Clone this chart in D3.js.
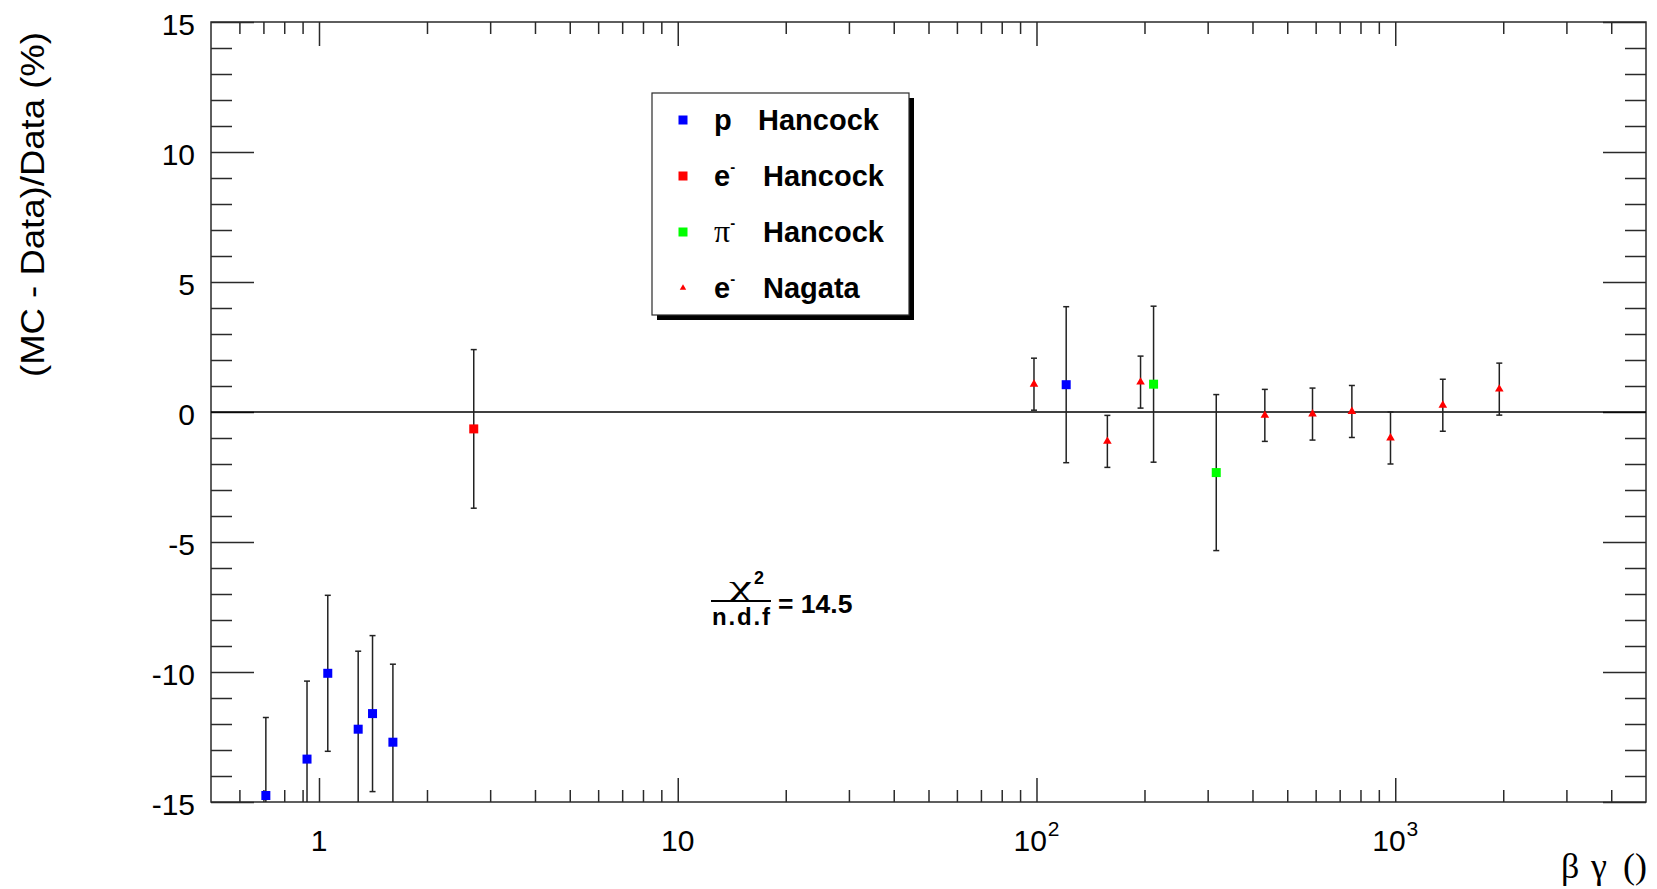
<!DOCTYPE html>
<html>
<head>
<meta charset="utf-8">
<script src="https://cdn.jsdelivr.net/npm/d3@7"></script>
<style>
  body { margin: 0; background: #fff; }
  svg { display: block; }
  text { font-family: "Liberation Sans", Arial, Helvetica, sans-serif; fill: #000; }
  .greek { font-family: "Liberation Serif", "Times New Roman", serif; }
</style>
</head>
<body>
<svg id="chart" width="1657" height="889"></svg>
<script>
// ---- data ----
// p Hancock (blue squares)
const pX   = [0.711, 0.926, 1.058, 1.286, 1.41, 1.607, 121];
const pY   = [-14.75, -13.35, -10.05, -12.2, -11.6, -12.7, 1.05];
const pErr = [3, 3, 3, 3, 3, 3, 3];
// e- Hancock (red square)
const eHX   = [2.7];
const eHY   = [-0.65];
const eHErr = [3.05];
// pi- Hancock (green squares)
const piX   = [212, 317];
const piY   = [1.07, -2.33];
const piErr = [3, 3];
// e- Nagata (red triangles)
const eNX   = [98.4, 157.6, 195, 433, 588, 757, 970, 1357, 1950];
const eNY   = [1.07, -1.13, 1.15, -0.13, -0.08, 0.02, -1.0, 0.26, 0.88];
const eNErr = [1, 1, 1, 1, 1, 1, 1, 1, 1];

const xMajor = [1, 10, 100, 1000];
const xMinor = [0.6, 0.7, 0.8, 0.9, 2, 3, 4, 5, 6, 7, 8, 9,
                20, 30, 40, 50, 60, 70, 80, 90,
                200, 300, 400, 500, 600, 700, 800, 900, 2000, 3000, 4000];
const xLabels = [["1", ""], ["10", ""], ["10", "2"], ["10", "3"]];
const yMajor = [-15, -10, -5, 0, 5, 10, 15];
const yMinor = d3.range(-14, 15).filter(v => v % 5 !== 0);

const series = [
  { name: "p",   who: "Hancock", color: "#0000ff", shape: "square",   xs: pX,  ys: pY,  es: pErr },
  { name: "e",   who: "Hancock", color: "#ff0000", shape: "square",   xs: eHX, ys: eHY, es: eHErr },
  { name: "π",   who: "Hancock", color: "#00ff00", shape: "square",   xs: piX, ys: piY, es: piErr },
  { name: "e",   who: "Nagata",  color: "#ff0000", shape: "triangle", xs: eNX, ys: eNY, es: eNErr }
];

// ---- layout ----
const svg = d3.select("#chart");
const padL = 211, padR = 1646, padT = 22, padB = 802;
const axisColor = "#2a2a2a";

const x = d3.scaleLog().domain([0.5, 5000]).range([padL, padR]);
const y = d3.scaleLinear().domain([-15, 15]).range([padB, padT]);

svg.append("defs").append("clipPath").attr("id", "plot-clip")
  .append("rect").attr("x", padL).attr("y", padT)
  .attr("width", padR - padL).attr("height", padB - padT);

// axes (ticks inward, ROOT style)
function styleAxis(g) {
  g.select(".domain").remove();
  g.selectAll(".tick line").attr("stroke", axisColor).attr("stroke-width", 1.5);
}

svg.append("g").attr("transform", `translate(0,${padB})`)
  .call(d3.axisBottom(x).tickValues(xMajor).tickSize(-24).tickFormat(""))
  .call(styleAxis);
svg.append("g").attr("transform", `translate(0,${padB})`)
  .call(d3.axisBottom(x).tickValues(xMinor).tickSize(-12).tickFormat(""))
  .call(styleAxis);
svg.append("g").attr("transform", `translate(0,${padT})`)
  .call(d3.axisTop(x).tickValues(xMajor).tickSize(-24).tickFormat(""))
  .call(styleAxis);
svg.append("g").attr("transform", `translate(0,${padT})`)
  .call(d3.axisTop(x).tickValues(xMinor).tickSize(-12).tickFormat(""))
  .call(styleAxis);

const yAxisG = svg.append("g").attr("transform", `translate(${padL},0)`)
  .call(d3.axisLeft(y).tickValues(yMajor).tickSize(-43).tickPadding(16).tickFormat(d => String(d)))
  .call(styleAxis);
yAxisG.selectAll(".tick text")
  .attr("font-size", 30).attr("dy", "0.41em")
  .style("font-family", '"Liberation Sans", Arial, Helvetica, sans-serif').attr("fill", "#000");
svg.append("g").attr("transform", `translate(${padL},0)`)
  .call(d3.axisLeft(y).tickValues(yMinor).tickSize(-21).tickFormat(""))
  .call(styleAxis);
svg.append("g").attr("transform", `translate(${padR},0)`)
  .call(d3.axisRight(y).tickValues(yMajor).tickSize(-43).tickFormat(""))
  .call(styleAxis);
svg.append("g").attr("transform", `translate(${padR},0)`)
  .call(d3.axisRight(y).tickValues(yMinor).tickSize(-21).tickFormat(""))
  .call(styleAxis);

// x tick labels with superscript exponents
xMajor.forEach((v, i) => {
  const t = svg.append("text")
    .attr("x", x(v)).attr("y", 851)
    .attr("text-anchor", "middle").attr("font-size", 30);
  t.append("tspan").text(xLabels[i][0]);
  if (xLabels[i][1]) {
    t.append("tspan").attr("dx", 1).attr("dy", -15).attr("font-size", 21).text(xLabels[i][1]);
  }
});

// frame
svg.append("rect")
  .attr("x", padL).attr("y", padT)
  .attr("width", padR - padL).attr("height", padB - padT)
  .attr("fill", "none").attr("stroke", axisColor).attr("stroke-width", 1.5);

// zero line
svg.append("line")
  .attr("x1", padL).attr("x2", padR)
  .attr("y1", y(0)).attr("y2", y(0))
  .attr("stroke", "#000").attr("stroke-width", 1.5);

// error bars + markers
const plot = svg.append("g").attr("clip-path", "url(#plot-clip)");
const tri = d3.symbol().type(d3.symbolTriangle).size(32);

series.forEach(s => {
  const pts = s.xs.map((xv, i) => ({ x: xv, y: s.ys[i], e: s.es[i] }));
  const bars = plot.append("g").attr("stroke", "#222").attr("stroke-width", 1.5);
  bars.selectAll("line.bar").data(pts).join("line").attr("class", "bar")
    .attr("x1", d => x(d.x)).attr("x2", d => x(d.x))
    .attr("y1", d => y(d.y - d.e)).attr("y2", d => y(d.y + d.e));
  bars.selectAll("line.capHi").data(pts).join("line").attr("class", "capHi")
    .attr("x1", d => x(d.x) - 3).attr("x2", d => x(d.x) + 3)
    .attr("y1", d => y(d.y + d.e)).attr("y2", d => y(d.y + d.e));
  bars.selectAll("line.capLo").data(pts).join("line").attr("class", "capLo")
    .attr("x1", d => x(d.x) - 3).attr("x2", d => x(d.x) + 3)
    .attr("y1", d => y(d.y - d.e)).attr("y2", d => y(d.y - d.e));

  if (s.shape === "square") {
    plot.append("g").selectAll("rect").data(pts).join("rect")
      .attr("x", d => x(d.x) - 4.5).attr("y", d => y(d.y) - 4.5)
      .attr("width", 9).attr("height", 9).attr("fill", s.color);
  } else {
    plot.append("g").selectAll("path").data(pts).join("path")
      .attr("transform", d => `translate(${x(d.x)},${y(d.y)})`)
      .attr("d", tri).attr("fill", s.color);
  }
});

// legend
const lg = svg.append("g");
lg.append("rect").attr("x", 657).attr("y", 98).attr("width", 257).attr("height", 222).attr("fill", "#000");
lg.append("rect").attr("x", 652).attr("y", 93).attr("width", 257).attr("height", 222)
  .attr("fill", "#fff").attr("stroke", axisColor).attr("stroke-width", 1.2);

const tri2 = d3.symbol().type(d3.symbolTriangle).size(18);
series.forEach((s, i) => {
  const ry = 120 + i * 56;
  if (s.shape === "square") {
    lg.append("rect").attr("x", 683 - 4.5).attr("y", ry - 4.5)
      .attr("width", 9).attr("height", 9).attr("fill", s.color);
  } else {
    lg.append("path").attr("transform", `translate(683,${ry})`).attr("d", tri2).attr("fill", s.color);
  }
  const t = lg.append("text").attr("x", 714).attr("y", ry + 10)
    .attr("font-size", 29).attr("font-weight", "bold");
  if (s.name === "π") {
    t.append("tspan").attr("class", "greek").attr("font-weight", "normal").attr("font-size", 32).text("π");
  } else {
    t.append("tspan").text(s.name);
  }
  if (s.name !== "p") {
    t.append("tspan").attr("dy", -14).attr("font-size", 15).text("-");
  }
  lg.append("text").attr("x", s.name === "p" ? 758 : 763).attr("y", ry + 10)
    .attr("font-size", 29).attr("font-weight", "bold").text(s.who);
});

// chi2 / ndf annotation
const ann = svg.append("g");
ann.append("text").attr("class", "greek").attr("x", 729).attr("y", 596).attr("font-size", 30)
  .attr("textLength", 23).attr("lengthAdjust", "spacingAndGlyphs").text("χ");
ann.append("text").attr("x", 754).attr("y", 584).attr("font-size", 18).attr("font-weight", "bold").text("2");
ann.append("line").attr("x1", 711).attr("x2", 771).attr("y1", 601).attr("y2", 601)
  .attr("stroke", "#000").attr("stroke-width", 2);
ann.append("text").attr("x", 712).attr("y", 625).attr("font-size", 24).attr("font-weight", "bold")
  .attr("textLength", 58).text("n.d.f");
ann.append("text").attr("x", 778).attr("y", 613).attr("font-size", 26.5).attr("font-weight", "bold")
  .text("= 14.5");

// axis titles
svg.append("text")
  .attr("transform", "translate(44,32) rotate(-90)")
  .attr("text-anchor", "end").attr("font-size", 34)
  .attr("textLength", 345).attr("lengthAdjust", "spacingAndGlyphs")
  .text("(MC - Data)/Data (%)");

const xt = svg.append("g");
xt.append("text").attr("class", "greek").attr("x", 1561).attr("y", 878).attr("font-size", 36).text("β");
xt.append("text").attr("class", "greek").attr("x", 1591).attr("y", 878).attr("font-size", 36).text("γ");
xt.append("text").attr("class", "greek").attr("x", 1623).attr("y", 878).attr("font-size", 36).text("()");
</script>
</body>
</html>
